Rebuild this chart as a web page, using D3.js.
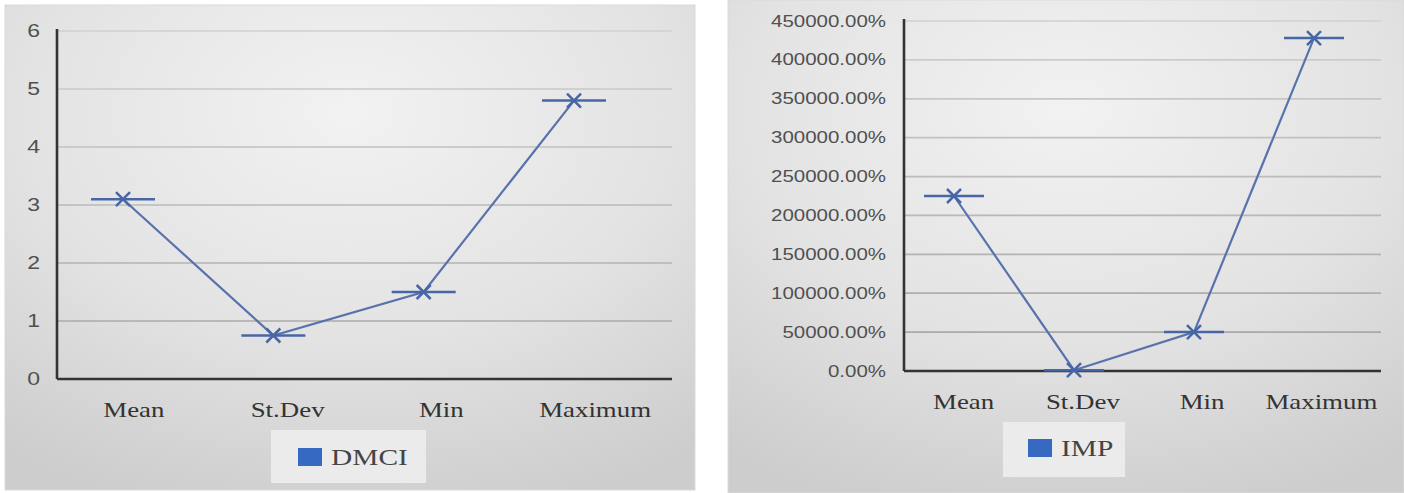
<!DOCTYPE html>
<html>
<head>
<meta charset="utf-8">
<script src="https://cdn.jsdelivr.net/npm/d3@7"></script>
<style>
  html, body { margin: 0; padding: 0; background: #ffffff; }
  svg { display: block; }
</style>
</head>
<body>
<svg id="chart" width="1404" height="493"></svg>
<script>
// Shared categories for both panels
const categories = ["Mean", "St.Dev", "Min", "Maximum"];

// Left panel: DMCI
const dmciValues = [3.1, 0.75, 1.5, 4.8];
const dmciTicks = [0, 1, 2, 3, 4, 5, 6];
const dmciName = "DMCI";

// Right panel: IMP (values in percent)
const impValues = [225000, 1000, 50000, 428000];
const impTicks = [0, 50000, 100000, 150000, 200000, 250000, 300000, 350000, 400000, 450000];
const impName = "IMP";

const svg = d3.select("#chart");
const defs = svg.append("defs");

const grad = defs.append("radialGradient")
  .attr("id", "panelBg").attr("cx", "50%").attr("cy", "22%").attr("r", "85%");
grad.append("stop").attr("offset", "0%").attr("stop-color", "#f2f2f2");
grad.append("stop").attr("offset", "55%").attr("stop-color", "#e3e3e3");
grad.append("stop").attr("offset", "100%").attr("stop-color", "#cdcdcd");

const STRETCH = 1.28;
const lineColor = "#5873ac";
const markerColor = "#4766a6";

function drawPanel(cfg) {
  const g = svg.append("g");

  g.append("rect")
    .attr("x", cfg.panel[0]).attr("y", cfg.panel[1])
    .attr("width", cfg.panel[2]).attr("height", cfg.panel[3])
    .attr("fill", "url(#panelBg)")
    .attr("stroke", "#dadada").attr("stroke-width", 1);

  const maxTick = d3.max(cfg.ticks);
  const y = d3.scaleLinear().domain([0, maxTick]).range([cfg.bottom, cfg.top]);
  const xBand = d3.scaleBand().domain(categories).range([cfg.left, cfg.right]);
  const xPt = d3.scalePoint().domain(categories).range(cfg.pointRange);
  const gridColor = d3.scaleLinear().domain([0, maxTick]).range(["#a4a4a4", "#d0d0d0"]);

  // gridlines, fading towards the top
  g.append("g").selectAll("line").data(cfg.ticks.filter(t => t > 0)).join("line")
    .attr("x1", cfg.left).attr("x2", cfg.right)
    .attr("y1", d => y(d)).attr("y2", d => y(d))
    .attr("stroke", d => gridColor(d)).attr("stroke-width", 1.7);

  // y tick labels
  g.append("g").selectAll("text").data(cfg.ticks).join("text")
    .attr("transform", d => `translate(${cfg.yLabelX},${y(d)}) scale(${STRETCH},1)`)
    .attr("text-anchor", "end").attr("dy", "0.35em")
    .attr("font-family", "'Liberation Sans', Arial, sans-serif")
    .attr("font-size", cfg.yFont).attr("fill", "#505050")
    .text(cfg.fmt);

  // axes
  g.append("line").attr("x1", cfg.left).attr("x2", cfg.left)
    .attr("y1", cfg.top - 2).attr("y2", cfg.bottom)
    .attr("stroke", "#333").attr("stroke-width", 2.6);
  g.append("line").attr("x1", cfg.left).attr("x2", cfg.right)
    .attr("y1", cfg.bottom).attr("y2", cfg.bottom)
    .attr("stroke", "#333").attr("stroke-width", 2.6);

  // category labels
  g.append("g").selectAll("text").data(categories).join("text")
    .attr("transform", d => `translate(${xBand(d) + xBand.bandwidth() / 2},${cfg.xLabelY}) scale(${STRETCH},1)`)
    .attr("text-anchor", "middle").attr("dy", "0.35em")
    .attr("font-family", "'Liberation Serif', 'Times New Roman', serif")
    .attr("font-size", 21).attr("fill", "#333")
    .text(d => d);

  // series line
  const pts = categories.map((c, i) => [xPt(c), y(cfg.values[i])]);
  g.append("path").attr("d", d3.line()(pts))
    .attr("fill", "none").attr("stroke", lineColor).attr("stroke-width", 2.2);

  // markers: horizontal dash with a cross
  const m = g.append("g").selectAll("g").data(pts).join("g")
    .attr("transform", d => `translate(${d[0]},${d[1]})`);
  m.append("line").attr("x1", -cfg.dash / 2).attr("x2", cfg.dash / 2)
    .attr("stroke", markerColor).attr("stroke-width", 2.5);
  m.append("path").attr("d", "M-7,-7L7,7M-7,7L7,-7")
    .attr("stroke", markerColor).attr("stroke-width", 2.5);

  // legend
  const lg = g.append("g");
  lg.append("rect").attr("x", cfg.legend[0]).attr("y", cfg.legend[1])
    .attr("width", cfg.legend[2]).attr("height", cfg.legend[3])
    .attr("fill", "#ebebeb");
  lg.append("rect").attr("x", cfg.swatch[0]).attr("y", cfg.swatch[1])
    .attr("width", 24).attr("height", 18).attr("fill", "#3569c2");
  lg.append("text")
    .attr("transform", `translate(${cfg.swatch[0] + 33},${cfg.swatch[1] + 9}) scale(${STRETCH},1)`)
    .attr("dy", "0.35em")
    .attr("font-family", "'Liberation Serif', 'Times New Roman', serif")
    .attr("font-size", 23).attr("fill", "#444")
    .text(cfg.name);
}

drawPanel({
  panel: [5, 5, 690, 485],
  left: 57, right: 672, top: 31, bottom: 379,
  pointRange: [123, 574],
  ticks: dmciTicks, values: dmciValues, name: dmciName,
  fmt: d => String(d), yFont: 18, yLabelX: 40,
  xLabelY: 410, dash: 64,
  legend: [271, 430, 155, 53], swatch: [298, 448]
});

drawPanel({
  panel: [728, 0, 676, 493],
  left: 904, right: 1381, top: 21, bottom: 371,
  pointRange: [954, 1314],
  ticks: impTicks, values: impValues, name: impName,
  fmt: d => d3.format(".2f")(d) + "%", yFont: 16, yLabelX: 886,
  xLabelY: 402, dash: 60,
  legend: [1003, 422, 122, 55], swatch: [1028, 439]
});
</script>
</body>
</html>
